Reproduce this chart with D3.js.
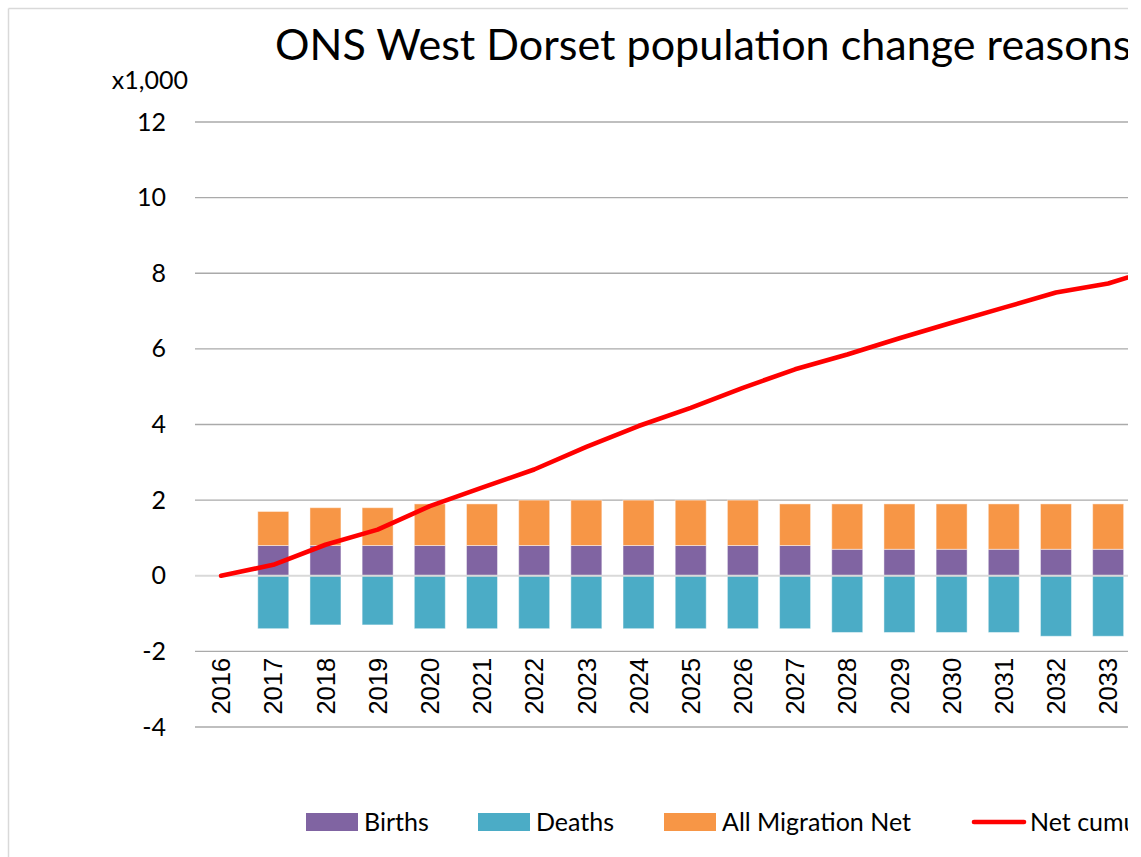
<!DOCTYPE html>
<html>
<head>
<meta charset="utf-8">
<script src="https://cdn.jsdelivr.net/npm/d3@7"></script>
<style>
  html, body { margin: 0; padding: 0; background: #fff; }
  svg { display: block; }
</style>
</head>
<body>
<div id="chart"></div>
<script>
/*
 * Chart data (thousands of people)
 *
 */
const years = ['2016', '2017', '2018', '2019', '2020', '2021', '2022', '2023', '2024', '2025',
  '2026', '2027', '2028', '2029', '2030', '2031', '2032', '2033', '2034'];
const births = [null, 0.8, 0.8, 0.8, 0.8, 0.8, 0.8, 0.8, 0.8, 0.8,
  0.8, 0.8, 0.7, 0.7, 0.7, 0.7, 0.7, 0.7, null];
const deaths = [null, -1.4, -1.3, -1.3, -1.4, -1.4, -1.4, -1.4, -1.4, -1.4,
  -1.4, -1.4, -1.5, -1.5, -1.5, -1.5, -1.6, -1.6, null];
const migration = [null, 0.9, 1.0, 1.0, 1.1, 1.1, 1.2, 1.2, 1.2, 1.2,
  1.2, 1.1, 1.2, 1.2, 1.2, 1.2, 1.2, 1.2, null];
const netCumulative = [0, 0.29, 0.82, 1.22, 1.84, 2.33, 2.81, 3.41, 3.96, 4.44,
  4.97, 5.46, 5.85, 6.28, 6.69, 7.09, 7.49, 7.73, 8.15];
const yTicks = [-4, -2, 0, 2, 4, 6, 8, 10, 12];
// only these year labels fall inside the picture
const shownYears = years.slice(0, 18);

const titleText = 'ONS West Dorset population change reasons';
const legendItems = [
  { label: 'Births', type: 'rect', color: '#8064A2', x: 306 },
  { label: 'Deaths', type: 'rect', color: '#4BACC6', x: 478 },
  { label: 'All Migration Net', type: 'rect', color: '#F79646', x: 664 },
  { label: 'Net cumulative', type: 'line', color: '#FF0000', x: 972 }
];

/*
 * Sizes
 *
 */
const svgWidth = 1141,
  svgHeight = 857,
  visibleRight = 1128,
  step = 52.18,
  plotLeft = 195;

const uiFont = "Lato, 'Open Sans', sans-serif";
const axisFont = "'Liberation Sans', Arial, sans-serif";

const svg = d3.select('#chart').append('svg')
  .attr('width', svgWidth)
  .attr('height', svgHeight);

svg.append('defs').append('clipPath')
  .attr('id', 'visible')
  .append('rect')
  .attr('x', 0)
  .attr('y', 0)
  .attr('width', visibleRight)
  .attr('height', svgHeight);

const root = svg.append('g').attr('clip-path', 'url(#visible)');

// chart frame (left and top edges only are in view)
root.append('line')
  .attr('x1', 8.5).attr('y1', 8.5).attr('x2', 8.5).attr('y2', svgHeight)
  .attr('stroke', '#d9d9d9').attr('stroke-width', 1.5);
root.append('line')
  .attr('x1', 8.5).attr('y1', 8.5).attr('x2', svgWidth).attr('y2', 8.5)
  .attr('stroke', '#d9d9d9').attr('stroke-width', 1.5);

/*
 * Scales
 *
 */
const xScale = d3.scaleBand()
  .domain(years)
  .range([plotLeft, plotLeft + step * years.length])
  .paddingInner(0.406)
  .paddingOuter(0.203);

const yScale = d3.scaleLinear()
  .domain([-4, 12])
  .range([727, 122]);

const plotRight = plotLeft + step * years.length;

// gridlines
root.append('g')
  .attr('class', 'grid')
  .selectAll('line')
  .data(yTicks.filter((d) => d !== 0))
  .enter()
  .append('line')
  .attr('x1', plotLeft)
  .attr('x2', plotRight)
  .attr('y1', (d) => yScale(d))
  .attr('y2', (d) => yScale(d))
  .attr('stroke', '#aaaaaa')
  .attr('stroke-width', 1.3);

// y axis labels (plain hyphen for negatives, as in the original)
const leftAxis = root.append('g')
  .attr('transform', `translate(${plotLeft},0)`)
  .call(d3.axisLeft(yScale).tickValues(yTicks).tickSize(0).tickPadding(29)
    .tickFormat((d) => String(d)));
leftAxis.select('.domain').remove();
leftAxis.selectAll('text')
  .style('font-family', uiFont)
  .style('font-size', '25px')
  .attr('fill', '#000');

root.append('text')
  .attr('x', 188)
  .attr('y', 89)
  .attr('text-anchor', 'end')
  .style('font-family', uiFont)
  .style('font-size', '25px')
  .text('x1,000');

/*
 * Bars
 *
 */
const rows = years.map((y, i) => ({
  year: y,
  births: births[i],
  deaths: deaths[i],
  migration: migration[i]
})).filter((d) => d.births !== null);

const bars = root.append('g').attr('class', 'bars');
const barW = xScale.bandwidth();

function addSeries(name, color, y0, y1) {
  bars.selectAll(`.${name}`)
    .data(rows)
    .enter()
    .append('rect')
    .attr('class', name)
    .attr('x', (d) => xScale(d.year))
    .attr('width', barW)
    .attr('y', (d) => Math.min(yScale(y0(d)), yScale(y1(d))))
    .attr('height', (d) => Math.abs(yScale(y0(d)) - yScale(y1(d))))
    .attr('fill', color)
    .attr('stroke', 'rgba(255,255,255,0.45)')
    .attr('stroke-width', 1);
}
addSeries('births', '#8064A2', () => 0, (d) => d.births);
addSeries('deaths', '#4BACC6', () => 0, (d) => d.deaths);
addSeries('migration', '#F79646', (d) => d.births, (d) => d.births + d.migration);

// zero line sits over the bars
root.append('line')
  .attr('x1', plotLeft)
  .attr('x2', plotRight)
  .attr('y1', yScale(0))
  .attr('y2', yScale(0))
  .attr('stroke', '#d9d9d9')
  .attr('stroke-width', 2);

// x axis labels
const bottomAxis = root.append('g')
  .attr('transform', `translate(0,${yScale(-2)})`)
  .call(d3.axisBottom(xScale).tickValues(shownYears).tickSize(0));
bottomAxis.select('.domain').remove();
bottomAxis.selectAll('text')
  .attr('transform', 'rotate(-90)')
  .attr('x', -6.5)
  .attr('y', 0)
  .attr('dy', '0.36em')
  .attr('text-anchor', 'end')
  .attr('fill', '#000')
  .style('font-family', axisFont)
  .style('font-size', '25.5px');

/*
 * Net cumulative line
 *
 */
const line = d3.line()
  .x((d, i) => xScale(years[i]) + barW / 2)
  .y((d) => yScale(d));

root.append('path')
  .datum(netCumulative)
  .attr('d', line)
  .attr('fill', 'none')
  .attr('stroke', '#FF0000')
  .attr('stroke-width', 4.6)
  .attr('stroke-linejoin', 'round')
  .attr('stroke-linecap', 'round');

/*
 * Title, fitted so that "...reason" ends where it does in the original
 *
 */
const title = root.append('text')
  .attr('x', 275)
  .attr('y', 59.5)
  .style('font-family', uiFont)
  .style('font-size', '40px')
  .text(titleText);
const prefixLen = title.node().getSubStringLength(0, titleText.length - 1);
title.style('font-size', `${40 * 838 / prefixLen}px`);

/*
 * Legend
 *
 */
const legend = root.append('g').attr('class', 'legend');
legendItems.forEach((item) => {
  if (item.type === 'rect') {
    legend.append('rect')
      .attr('x', item.x)
      .attr('y', 813)
      .attr('width', 52)
      .attr('height', 18)
      .attr('fill', item.color);
  } else {
    legend.append('line')
      .attr('x1', item.x + 2)
      .attr('x2', item.x + 52)
      .attr('y1', 822)
      .attr('y2', 822)
      .attr('stroke', item.color)
      .attr('stroke-width', 4.6)
      .attr('stroke-linecap', 'round');
  }
  legend.append('text')
    .attr('x', item.x + 58)
    .attr('y', 831)
    .style('font-family', uiFont)
    .style('font-size', '25px')
    .text(item.label);
});
</script>
</body>
</html>
